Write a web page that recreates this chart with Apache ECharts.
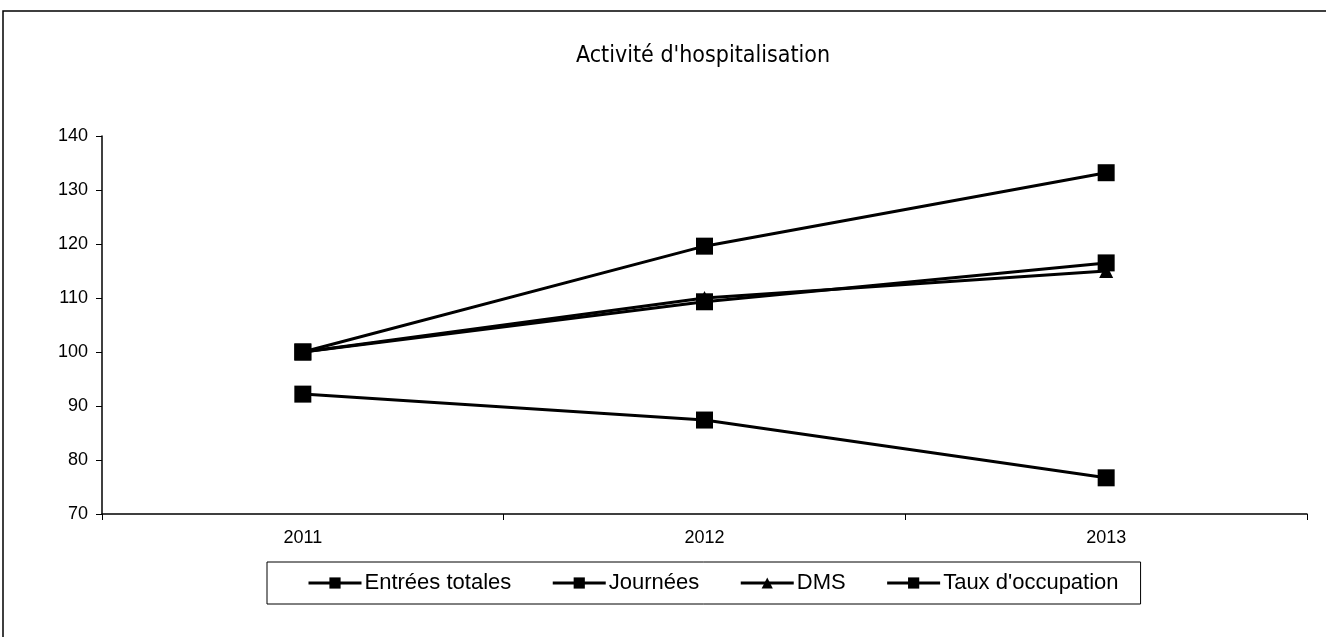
<!DOCTYPE html>
<html>
<head>
<meta charset="utf-8">
<script src="https://cdn.jsdelivr.net/npm/echarts@6/dist/echarts.min.js"></script>
<style>
  html, body { margin: 0; padding: 0; background: #fff; }
  #chart { width: 1326px; height: 637px; }
</style>
</head>
<body>
<div id="chart"></div>
<script>
// données (base 100 en 2011)
const years = ['2011', '2012', '2013']
const entrees = [100, 109.3, 116.5]
const journees = [100, 119.6, 133.2]
const dms = [100, 110, 115]
const tauxOccupation = [92.2, 87.4, 76.7]

const chart = echarts.init(document.getElementById('chart'))

function lineSerie(name, data, symbol) {
  return {
    name: name,
    type: 'line',
    data: data,
    symbol: symbol,
    symbolSize: symbol === 'triangle' ? 14 : 17,
    itemStyle: { color: '#000' },
    lineStyle: { color: '#000', width: 3 },
    emphasis: { disabled: true },
    z: 3,
  }
}

const option = {
  animation: false,
  backgroundColor: '#fff',
  textStyle: { fontFamily: 'Liberation Sans, Arial, sans-serif', color: '#000' },
  title: {
    text: 'Activité d\'hospitalisation',
    left: 571,
    top: 40,
    textStyle: {
      fontFamily: 'DejaVu Sans Condensed, DejaVu Sans, sans-serif',
      fontWeight: 'normal',
      fontSize: 23,
      color: '#000',
    },
  },
  graphic: [
    {
      type: 'polyline',
      shape: { points: [[3, 640], [3, 11], [1326, 11]] },
      style: { stroke: '#000', lineWidth: 1.5, fill: null },
    },
  ],
  grid: {
    left: 102,
    right: 19,
    top: 136,
    bottom: 123,
  },
  legend: {
    left: 267,
    top: 562,
    padding: [10, 22, 10, 40],
    itemGap: 40,
    itemWidth: 53,
    itemHeight: 14,
    borderColor: '#000',
    borderWidth: 1,
    lineStyle: { width: 3, color: '#000' },
    textStyle: { fontSize: 22, color: '#000', padding: [0, 0, 0, -2] },
    data: ['Entrées totales', 'Journées', 'DMS', 'Taux d\'occupation'],
  },
  xAxis: {
    type: 'category',
    data: years,
    boundaryGap: true,
    axisLine: { lineStyle: { color: '#000', width: 1.5 } },
    axisTick: { show: true, length: 6, lineStyle: { color: '#000' } },
    axisLabel: { fontSize: 18, color: '#000', margin: 15 },
  },
  yAxis: {
    type: 'value',
    min: 70,
    max: 140,
    interval: 10,
    splitLine: { show: false },
    axisLine: { show: true, lineStyle: { color: '#000', width: 1.5 } },
    axisTick: { show: true, length: 6, lineStyle: { color: '#000' } },
    axisLabel: { fontSize: 18, color: '#000', margin: 14 },
  },
  series: [
    lineSerie('Entrées totales', entrees, 'rect'),
    lineSerie('Journées', journees, 'rect'),
    lineSerie('DMS', dms, 'triangle'),
    lineSerie('Taux d\'occupation', tauxOccupation, 'rect'),
  ],
}

chart.setOption(option)
</script>
</body>
</html>
